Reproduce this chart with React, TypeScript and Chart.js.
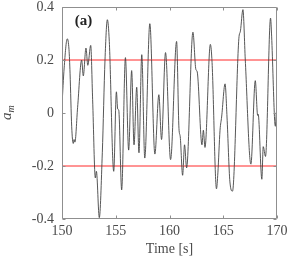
import { useEffect, useRef } from 'react';
import { Chart, registerables } from 'chart.js';

Chart.register(...registerables);

// ---- data ----
const times = [150.0,150.2,150.49,150.65,150.75,150.9,151.05,151.12,151.2,151.45,151.83,151.98,152.23,152.4,152.67,152.85,153.1,153.2,153.47,153.75,154.0,154.22,154.4,154.81,155.06,155.18,155.28,155.55,155.9,156.2,156.48,156.7,156.95,157.16,157.42,157.7,158.17,158.64,159.01,159.26,159.63,160.1,160.66,160.88,161.0,161.22,161.4,161.59,162.18,162.45,162.58,163.02,163.15,163.3,163.8,163.96,164.37,164.5,164.7,164.85,165.17,165.35,165.62,165.86,166.45,166.6,166.83,167.05,167.57,167.98,168.2,168.25,168.59,168.72,168.93,169.4,169.5,169.78,169.85,169.95,170.0];
const values = [0.03,0.17,0.28,0.24,0.15,-0.05,-0.115,-0.10,-0.11,0.02,0.20,0.14,0.245,0.18,0.255,0.05,-0.245,-0.22,-0.395,-0.15,0.2,0.352,0.27,-0.22,0.08,0.015,0.01,-0.29,0.209,-0.14,0.16,-0.12,0.097,-0.15,0.22,-0.17,0.337,-0.155,0.069,-0.10,0.228,-0.176,0.27,-0.058,-0.09,-0.235,-0.12,-0.207,0.305,0.165,0.155,-0.12,-0.065,-0.13,0.259,0.19,-0.286,-0.226,-0.065,-0.015,0.11,-0.015,-0.26,-0.295,0.28,0.31,0.39,0.2,-0.193,0.122,-0.009,-0.005,-0.25,-0.127,-0.164,0.358,0.29,-0.027,-0.05,0.004,-0.01];
const thresholds = [0.2, -0.2];
const xTicks = [150, 155, 160, 165, 170];
const xTickLabels = ['150', '155', '160', '165', '170'];
const yTicks = [-0.4, -0.2, 0, 0.2, 0.4];
const yTickLabels = ['-0.4', '-0.2', '0', '0.2', '0.4'];
const xTitle = 'Time [s]';
const panelLabel = '(a)';

const FONT = '"Liberation Serif", "DejaVu Serif", serif';
const AXIS_COLOR = '#8f8f8f';
const TEXT_COLOR = '#4a4a4a';

const decorPlugin = {
  id: 'decor',
  afterDraw(chart: any) {
    const { ctx, chartArea, scales } = chart;
    const { left, right, top, bottom } = chartArea;
    const xs = scales.x;
    const ys = scales.y;
    ctx.save();
    // box
    ctx.strokeStyle = AXIS_COLOR;
    ctx.lineWidth = 1;
    const L = Math.round(left) + 0.5;
    const R = Math.round(right) - 0.5;
    const T = Math.round(top) + 0.5;
    const B = Math.round(bottom) - 0.5;
    ctx.beginPath();
    ctx.rect(L, T, R - L, B - T);
    ctx.stroke();
    // inward ticks
    const tl = 3;
    ctx.beginPath();
    xTicks.forEach((v) => {
      const px = Math.round(xs.getPixelForValue(v)) + 0.5;
      ctx.moveTo(px, B); ctx.lineTo(px, B - tl);
      ctx.moveTo(px, T); ctx.lineTo(px, T + tl);
    });
    yTicks.forEach((v) => {
      const py = Math.round(ys.getPixelForValue(v)) + 0.5;
      ctx.moveTo(L, py); ctx.lineTo(L + tl, py);
      ctx.moveTo(R, py); ctx.lineTo(R - tl, py);
    });
    ctx.stroke();
    // tick labels
    ctx.fillStyle = TEXT_COLOR;
    ctx.font = `14px ${FONT}`;
    ctx.textAlign = 'center';
    ctx.textBaseline = 'top';
    xTicks.forEach((v, i) => {
      ctx.fillText(xTickLabels[i], xs.getPixelForValue(v), bottom + 5);
    });
    ctx.textAlign = 'right';
    ctx.textBaseline = 'middle';
    yTicks.forEach((v, i) => {
      ctx.fillText(yTickLabels[i], left - 8, ys.getPixelForValue(v));
    });
    // x title
    ctx.textAlign = 'center';
    ctx.textBaseline = 'middle';
    ctx.fillText(xTitle, (left + right) / 2, 249);
    // y title a_m
    ctx.save();
    ctx.translate(11, 120);
    ctx.rotate(-Math.PI / 2);
    ctx.textAlign = 'left';
    ctx.textBaseline = 'alphabetic';
    ctx.font = `italic 15px ${FONT}`;
    ctx.fillText('a', 0, 0);
    const wa = ctx.measureText('a').width;
    ctx.font = `italic 10px ${FONT}`;
    ctx.fillText('m', wa, 2.5);
    ctx.restore();
    // panel label
    ctx.fillStyle = '#222';
    ctx.font = `bold 15px ${FONT}`;
    ctx.textAlign = 'center';
    ctx.textBaseline = 'middle';
    ctx.fillText(panelLabel, 83.5, 21);
    ctx.restore();
  },
};

export default function App() {
  const ref = useRef<HTMLCanvasElement>(null);
  useEffect(() => {
    document.body.style.margin = '0';
    let chart: any = null;
    let cancelled = false;
    const build = () => {
      if (cancelled || !ref.current) return;
      const signal = times.map((t, i) => ({ x: t, y: values[i] }));
      const datasets: any[] = [
        {
          data: signal,
          borderColor: '#444444',
          borderWidth: 0.9,
          pointRadius: 0,
          cubicInterpolationMode: 'monotone',
          fill: false,
        },
        ...thresholds.map((th) => ({
          data: [{ x: xTicks[0], y: th }, { x: xTicks[xTicks.length - 1], y: th }],
          borderColor: 'rgb(255,40,40)',
          borderWidth: 1,
          pointRadius: 0,
          fill: false,
        })),
      ];
      chart = new Chart(ref.current, {
        type: 'line',
        data: { datasets },
        plugins: [decorPlugin],
        options: {
          animation: false,
          responsive: false,
          events: [],
          layout: { padding: { left: 0, top: 7, right: 10, bottom: 0 } },
          plugins: { legend: { display: false }, tooltip: { enabled: false } },
          scales: {
            x: {
              type: 'linear',
              min: 150,
              max: 170,
              grid: { display: false },
              border: { display: false },
              ticks: { display: false },
              afterFit: (s: any) => { s.height = 44; },
            },
            y: {
              type: 'linear',
              min: -0.4,
              max: 0.4,
              grid: { display: false },
              border: { display: false },
              ticks: { display: false },
              afterFit: (s: any) => { s.width = 62; },
            },
          },
        } as any,
      });
    };
    const fonts: any = (document as any).fonts;
    if (fonts && fonts.load) {
      Promise.all([
        fonts.load('14px "Liberation Serif"'),
        fonts.load('italic 15px "Liberation Serif"'),
        fonts.load('bold 15px "Liberation Serif"'),
      ]).then(build, build);
    } else {
      build();
    }
    return () => {
      cancelled = true;
      if (chart) chart.destroy();
    };
  }, []);
  return (
    <div style={{ width: 287, height: 263 }}>
      <span style={{ fontFamily: 'Liberation Serif', position: 'absolute', visibility: 'hidden' }}>
        <span>x</span><i>a</i><b>a</b>
      </span>
      <canvas ref={ref} width={287} height={263} style={{ display: 'block' }} />
    </div>
  );
}
